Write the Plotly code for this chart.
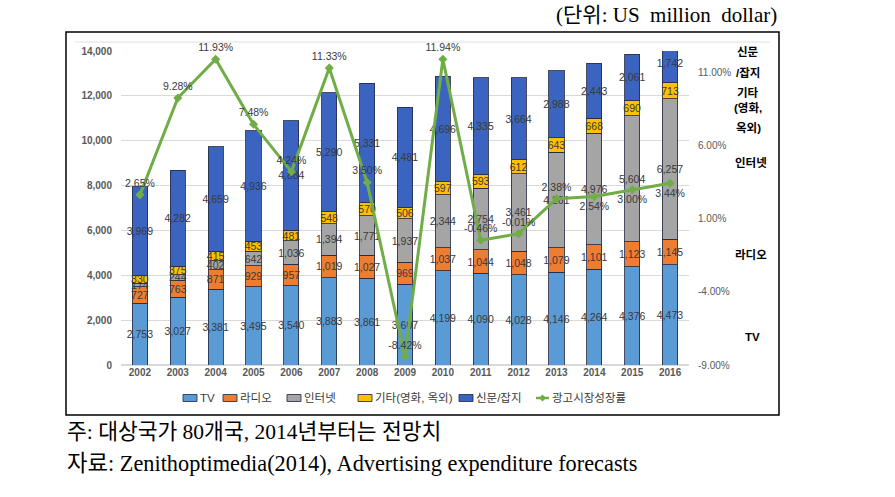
import plotly.graph_objects as go

years = ["2002", "2003", "2004", "2005", "2006", "2007", "2008", "2009",
         "2010", "2011", "2012", "2013", "2014", "2015", "2016"]
tv = [2753, 3027, 3381, 3495, 3540, 3883, 3861, 3607, 4199, 4090, 4028, 4146, 4264, 4376, 4473]
radio = [727, 763, 871, 929, 957, 1019, 1027, 969, 1037, 1044, 1048, 1079, 1101, 1123, 1145]
internet = [174, 244, 402, 642, 1036, 1394, 1771, 1937, 2344, 2754, 3461, 4261, 4976, 5604, 6257]
other = [330, 375, 415, 453, 481, 548, 570, 506, 597, 593, 612, 643, 668, 690, 713]
press = [3969, 4282, 4659, 4936, 4884, 5290, 5331, 4481, 4696, 4335, 3664, 2988, 2443, 2061, 1742]
growth = [2.65, 9.28, 11.93, 7.48, 4.24, 11.33, 3.50, -8.42, 11.94, -0.46, -0.01, 2.38, 2.54, 3.00, 3.44]
growth_pos = ["top center"] * 12 + ["bottom center"] * 3
pct_ticks = [-9, -4, 1, 6, 11]

series_names = ["TV", "라디오", "인터넷", "기타(영화, 옥외)", "신문/잡지"]
series_vals = [tv, radio, internet, other, press]
series_colors = ["#5b9bd5", "#ed7d31", "#a5a5a5", "#ffc000", "#3a64c0"]
line_name = "광고시장성장률"
line_color = "#70ad47"

SANS = "Liberation Sans, Noto Sans CJK KR, sans-serif"
SERIF = "Liberation Serif, Noto Sans CJK KR, serif"
TXT = "#3a3a3a"
EDGE = "rgba(40,45,70,0.85)"

fig = go.Figure()
for name, vals, col in zip(series_names, series_vals, series_colors):
    fig.add_trace(go.Bar(
        x=years, y=vals, name=name, showlegend=False,
        marker=dict(color=col, line=dict(color=EDGE, width=1)),
        texttemplate="%{y:,}", textposition="inside", insidetextanchor="middle",
        textangle=0,
        textfont=dict(size=10.5, color=TXT, family=SANS),
    ))

fig.add_trace(go.Scatter(
    x=years, y=growth, name=line_name, yaxis="y2", showlegend=False,
    mode="lines+markers+text", cliponaxis=False,
    line=dict(color=line_color, width=3),
    marker=dict(symbol="diamond", size=7, color=line_color),
    text=[f"{g:.2f}%" for g in growth], textposition=growth_pos,
    textfont=dict(size=10.5, color=TXT, family=SANS),
))

W, H = 895, 497
L, R, T, B = 121, 206, 51, 132
pw, ph = W - L - R, H - T - B


def px(x):
    return (x - L) / pw


def py(y):
    return (H - B - y) / ph


annos = []
shapes = []

# right-hand series labels
side_labels = [("신문", 748, 52), ("/잡지", 748, 73), ("기타", 748, 92), ("(영화,", 748, 108),
               ("옥외)", 748, 128), ("인터넷", 751, 162), ("라디오", 751, 255), ("TV", 752, 337)]
for t, x, y in side_labels:
    annos.append(dict(text=t, x=px(x), y=py(y), xref="paper", yref="paper",
                      showarrow=False, xanchor="center", yanchor="middle",
                      font=dict(size=11.5, color="#000000", family=SANS, weight="bold")))

# unit title and notes
NB = "\u00a0"
annos.append(dict(text=f"(단위:{NB}US{NB}{NB}million{NB}{NB}dollar)", x=px(779), y=py(15),
                  xref="paper", yref="paper", showarrow=False, xanchor="right", yanchor="middle",
                  font=dict(size=21, color="#000000", family=SERIF)))
annos.append(dict(text="주: 대상국가 80개국, 2014년부터는 전망치", x=px(65), y=py(432),
                  xref="paper", yref="paper", showarrow=False, xanchor="left", yanchor="middle",
                  font=dict(size=21.5, color="#000000", family=SERIF)))
annos.append(dict(text="자료: Zenithoptimedia(2014), Advertising expenditure forecasts", x=px(65), y=py(463),
                  xref="paper", yref="paper", showarrow=False, xanchor="left", yanchor="middle",
                  font=dict(size=22.3, color="#000000", family=SERIF)))

# custom legend
LEG_Y = 398
leg_x = [183, 223, 287, 358, 459]
for name, col, x0 in zip(series_names, series_colors, leg_x):
    shapes.append(dict(type="rect", xref="paper", yref="paper",
                       x0=px(x0), x1=px(x0 + 14), y0=py(LEG_Y + 3.5), y1=py(LEG_Y - 3.5),
                       fillcolor=col, line=dict(color=EDGE, width=1)))
    annos.append(dict(text=name, x=px(x0 + 14.5), y=py(LEG_Y), xref="paper", yref="paper",
                      showarrow=False, xanchor="left", yanchor="middle",
                      font=dict(size=11.5, color=TXT, family=SANS)))
lx0, lx1 = 536, 549
shapes.append(dict(type="line", xref="paper", yref="paper", x0=px(lx0), x1=px(lx1),
                   y0=py(LEG_Y), y1=py(LEG_Y), line=dict(color=line_color, width=2.5)))
cx, d = (lx0 + lx1) / 2, 3.5
shapes.append(dict(type="path", xref="paper", yref="paper",
                   path=f"M {px(cx)} {py(LEG_Y - d)} L {px(cx + d)} {py(LEG_Y)} "
                        f"L {px(cx)} {py(LEG_Y + d)} L {px(cx - d)} {py(LEG_Y)} Z",
                   fillcolor=line_color, line=dict(color=line_color, width=0)))
annos.append(dict(text=line_name, x=px(lx1 + 0.5), y=py(LEG_Y), xref="paper", yref="paper",
                  showarrow=False, xanchor="left", yanchor="middle",
                  font=dict(size=11.5, color=TXT, family=SANS)))

# frames
shapes.append(dict(type="rect", xref="paper", yref="paper", x0=px(66), x1=px(779), y0=py(415), y1=py(32),
                   line=dict(color="#000000", width=1.5), fillcolor="rgba(0,0,0,0)", layer="below"))
shapes.append(dict(type="line", xref="paper", yref="paper", x0=px(75), x1=px(770), y0=py(42), y1=py(42),
                   line=dict(color="#e0e0e0", width=1), layer="below"))

fig.update_layout(
    width=W, height=H,
    margin=dict(l=L, r=R, t=T, b=B, autoexpand=False),
    paper_bgcolor="white", plot_bgcolor="white",
    barmode="stack", bargap=0.6,
    uniformtext=dict(minsize=10.5, mode="show"),
    font=dict(family=SANS, color=TXT),
    showlegend=False,
    xaxis=dict(type="category", range=[-0.5, len(years) - 0.5], showgrid=False, showline=False, ticks="",
               tickfont=dict(size=10, color="#595959", weight="bold")),
    yaxis=dict(range=[0, 14000], tickvals=list(range(0, 14001, 2000)), tickformat=",",
               showgrid=True, gridcolor="#d9d9d9", gridwidth=1, zeroline=True,
               zerolinecolor="#d9d9d9", showline=False, ticks="",
               tickfont=dict(size=10, color="#595959", weight="bold"), ticklabelstandoff=8),
    yaxis2=dict(overlaying="y", side="right", range=[-9, 12.5],
                tickvals=pct_ticks, ticktext=[f"{v:.2f}%" for v in pct_ticks],
                showgrid=False, zeroline=False, showline=False, ticks="",
                tickfont=dict(size=10, color="#595959"), ticklabelstandoff=8),
    annotations=annos, shapes=shapes,
)

fig.write_html("out.html")
